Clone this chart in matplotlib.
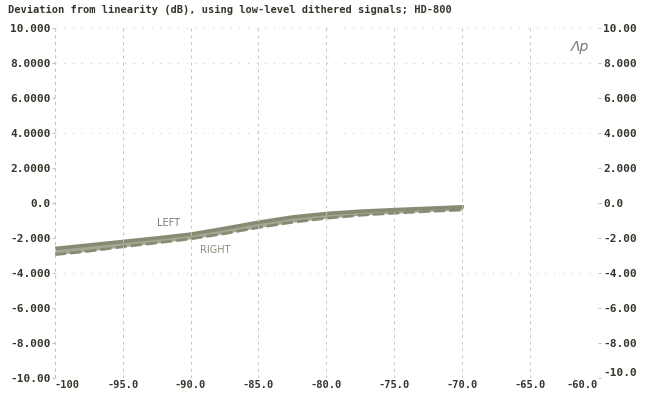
import matplotlib.pyplot as plt

# level (dBFS) and deviation from linearity (dB)
level = [-100, -97.5, -95, -92.5, -90, -87.5, -85, -82.5, -80, -77.5, -75, -72.5, -70]
left_dev = [-2.6, -2.4, -2.2, -2.0, -1.78, -1.45, -1.1, -0.8, -0.6, -0.47, -0.38, -0.3, -0.22]
right_dev = [-2.95, -2.75, -2.5, -2.28, -2.05, -1.75, -1.4, -1.1, -0.87, -0.7, -0.58, -0.48, -0.4]

x_ticks = [-100, -95, -90, -85, -80, -75, -70, -65, -60]
x_labels = ["-100", "-95.0", "-90.0", "-85.0", "-80.0", "-75.0", "-70.0", "-65.0", "-60.0"]
y_ticks = [10, 8, 6, 4, 2, 0, -2, -4, -6, -8, -10]
y_labels_left = ["10.000", "8.0000", "6.0000", "4.0000", "2.0000", "0.0",
                 "-2.000", "-4.000", "-6.000", "-8.000", "-10.00"]
y_labels_right = ["10.00", "8.000", "6.000", "4.000", "2.000", "0.0",
                  "-2.00", "-4.00", "-6.00", "-8.00", "-10.0"]

title = "Deviation from linearity (dB), using low-level dithered signals; HD-800"

mono = "DejaVu Sans Mono"
txt_col = "#35352b"
line_col = "#878b74"
fill_col = "#a4a792"
grid_col = "#c4c4c4"

fig = plt.figure(figsize=(6.45, 3.93), dpi=100)
ax = fig.add_axes([0.085, 0.038, 0.842, 0.891])

# the two traces print as one thick band on the scan
ax.fill_between(level, right_dev, left_dev, color=fill_col, lw=0)
ax.plot(level, right_dev, color=line_col, lw=2.0, ls=(0, (4, 1.5)))
ax.plot(level, left_dev, color=line_col, lw=2.6)

ax.set_xlim(-100, -60)
ax.set_ylim(-10, 10)

# scanned-looking grid: light dashed verticals, sparse dotted horizontals
for xv in x_ticks[1:-1]:
    ax.axvline(xv, color=grid_col, lw=0.7, ls=(0, (3, 4)))
for yv in [10, 8, 4, -4]:
    ax.axhline(yv, color=grid_col, lw=0.7, ls=(0, (1, 8)))

for s in ax.spines.values():
    s.set_visible(False)
ax.axvline(-100, color=grid_col, lw=0.8, ls=(0, (3, 3)))
ax.axvline(-60, color=grid_col, lw=0.8, ls=(0, (3, 3)))

ax.set_xticks(x_ticks)
ax.set_xticklabels(x_labels, fontfamily=mono, fontweight="bold", fontsize=7.5, color=txt_col)
ax.tick_params(axis="x", length=0, pad=5)
for lab in ax.get_xticklabels():
    lab.set_va("center")
ax.get_xticklabels()[0].set_ha("left")
ax.get_xticklabels()[-1].set_ha("right")

ax.set_yticks(y_ticks)
ax.set_yticklabels(y_labels_left, fontfamily=mono, fontweight="bold", fontsize=8, color=txt_col)
ax.tick_params(axis="y", length=2, pad=1, color=grid_col)

ax2 = ax.twinx()
ax2.set_ylim(-10, 10)
ax2.set_yticks(y_ticks)
ax2.set_yticklabels(y_labels_right, fontfamily=mono, fontweight="bold", fontsize=8, color=txt_col)
ax2.tick_params(axis="y", length=2, pad=2, color=grid_col)
ax2.get_yticklabels()[-1].set_va("bottom")
for s in ax2.spines.values():
    s.set_visible(False)

ax.text(-91.6, -1.16, "LEFT", fontsize=7, color="#7a7a70", ha="center", va="center")
ax.text(-88.2, -2.67, "RIGHT", fontsize=7, color="#8a8d78", ha="center", va="center")
ax.text(-61.3, 8.9, "Λp", fontsize=10, color="#777777", ha="center", va="center", style="italic")

fig.text(0.012, 0.975, title, fontfamily=mono, fontweight="bold", fontsize=7.5,
         color=txt_col, ha="left", va="center")

fig.savefig("out.png", dpi=100, facecolor="white")
